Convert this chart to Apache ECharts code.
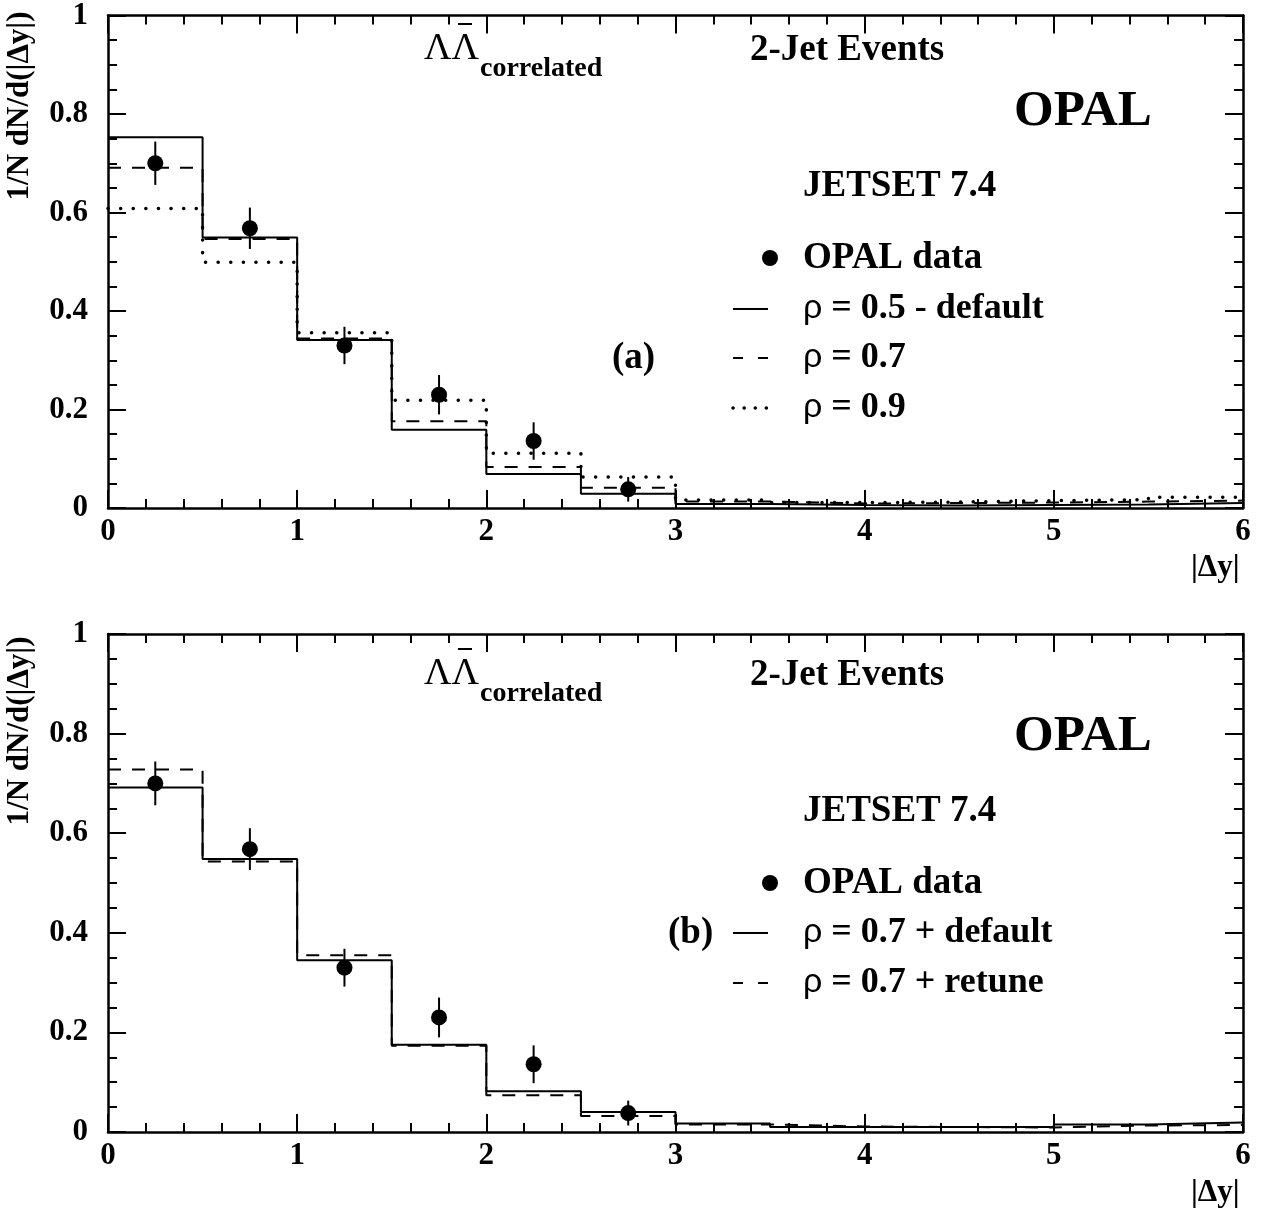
<!DOCTYPE html>
<html>
<head>
<meta charset="utf-8">
<script src="https://cdn.jsdelivr.net/npm/echarts@6/dist/echarts.min.js"></script>
<style>
  html, body { margin: 0; padding: 0; background: #fff; }
  #chart { width: 1264px; height: 1211px; }
</style>
</head>
<body>
<div id="chart"></div>
<script>
// bin edges of |dy| histograms (0.5 wide)
const binEdges = [0, 0.5, 1, 1.5, 2, 2.5, 3, 3.5, 4, 4.5, 5, 5.5, 6];
// OPAL data points
const dataX = [0.25, 0.75, 1.25, 1.75, 2.25, 2.75];
const dataY = [0.700, 0.568, 0.330, 0.230, 0.136, 0.038];
const dataErr = [0.044, 0.042, 0.038, 0.040, 0.038, 0.025];
// panel (a) JETSET 7.4
const rho05 = [0.753, 0.549, 0.341, 0.159, 0.069, 0.029, 0.008, 0.006, 0.005, 0.006, 0.007, 0.010];
const rho07 = [0.691, 0.546, 0.344, 0.176, 0.083, 0.041, 0.013, 0.009, 0.010, 0.011, 0.013, 0.015];
const rho09 = [0.608, 0.499, 0.356, 0.219, 0.111, 0.063, 0.016, 0.011, 0.012, 0.015, 0.017, 0.022];
// panel (b)
const rho07Default = [0.692, 0.548, 0.345, 0.175, 0.082, 0.040, 0.017, 0.010, 0.010, 0.010, 0.015, 0.019];
const rho07Retune = [0.728, 0.543, 0.355, 0.173, 0.074, 0.032, 0.015, 0.011, 0.010, 0.009, 0.013, 0.014];

const FONT = '"Liberation Serif", "Times New Roman", serif';
const DASH = [13, 11];
const DOT = [0.1, 12.5];

const hist = vals => binEdges.map((e, i) => [e, vals[Math.min(i, vals.length - 1)]]);
const points = dataX.map((x, i) => [x, dataY[i], dataErr[i]]);

function xAx(grid, pos) {
  return {
    type: 'value', gridIndex: grid, position: pos, min: 0, max: 6, interval: 1,
    axisLine: { onZero: false, lineStyle: { color: '#000', width: 2.5 } },
    axisTick: { inside: true, length: 18, lineStyle: { color: '#000', width: 2 } },
    minorTick: { show: true, splitNumber: 5, length: 9, lineStyle: { color: '#000', width: 2 } },
    axisLabel: {
      show: pos === 'bottom', color: '#000', fontFamily: FONT, fontWeight: 'bold',
      fontSize: 31, margin: 8
    },
    splitLine: { show: false }
  };
}
function yAx(grid, pos) {
  return {
    type: 'value', gridIndex: grid, position: pos, min: 0, max: 1, interval: 0.2,
    axisLine: { onZero: false, lineStyle: { color: '#000', width: 2.5 } },
    axisTick: { inside: true, length: 18, lineStyle: { color: '#000', width: 2 } },
    minorTick: { show: true, splitNumber: 4, length: 9, lineStyle: { color: '#000', width: 2 } },
    axisLabel: {
      show: pos === 'left', color: '#000', fontFamily: FONT, fontWeight: 'bold',
      fontSize: 31, margin: 20
    },
    splitLine: { show: false }
  };
}

function histSeries(name, vals, axis, type) {
  const dotted = type === DOT;
  return {
    name: name, type: 'line', step: 'end', data: hist(vals),
    xAxisIndex: axis, yAxisIndex: axis, symbol: 'none', silent: true,
    lineStyle: { color: '#000', width: dotted ? 3.5 : 2, type: type, cap: dotted ? 'round' : 'butt' },
    z: 3
  };
}
function pointSeries(axis) {
  return {
    name: 'OPAL data', type: 'custom', xAxisIndex: axis, yAxisIndex: axis, data: points, z: 5,
    renderItem: (params, api) => {
      const x = api.value(0), y = api.value(1), e = api.value(2);
      const p = api.coord([x, y]);
      const lo = api.coord([x, y - e]);
      const hi = api.coord([x, y + e]);
      return {
        type: 'group', children: [
          { type: 'line', shape: { x1: p[0], y1: lo[1], x2: p[0], y2: hi[1] }, style: { stroke: '#000', lineWidth: 2 } },
          { type: 'circle', shape: { cx: p[0], cy: p[1], r: 8 }, style: { fill: '#000' } }
        ]
      };
    }
  };
}

// text helpers for graphic
function txt(x, y, text, size, opts) {
  return Object.assign({
    type: 'text', x: x, y: y, z: 10,
    style: {
      text: text, fill: '#000', fontFamily: FONT, fontWeight: 'bold', fontSize: size,
      verticalAlign: 'middle', align: 'left'
    }
  }, opts || {});
}
function rhoTxt(x, y, rest) {
  return {
    type: 'text', x: x, y: y, z: 10,
    style: {
      text: '{r|ρ}{t|' + rest + '}', verticalAlign: 'middle', align: 'left',
      rich: {
        r: { fontFamily: '"Liberation Sans", sans-serif', fontSize: 34, fill: '#000' },
        t: { fontFamily: FONT, fontWeight: 'bold', fontSize: 36, fill: '#000' }
      }
    }
  };
}
function key(y, dash, dotted) {
  return {
    type: 'line', z: 10, shape: { x1: 733, y1: y, x2: 768, y2: y },
    style: { stroke: '#000', lineWidth: dotted ? 3.5 : 2, lineDash: dash || null, lineCap: dotted ? 'round' : 'butt' }
  };
}
function panelText(dy) {
  return [
    txt(20, 106 + dy, '1/N dN/d(|Δy|)', 31, { rotation: Math.PI / 2, style: {
      text: '1/N dN/d(|Δy|)', fill: '#000', fontFamily: FONT, fontWeight: 'bold', fontSize: 31,
      align: 'center', verticalAlign: 'middle' } }),
    txt(1191, 568 + dy, '|Δy|', 31),
    txt(424, 49 + dy, 'ΛΛ', 38, { style: { text: 'ΛΛ', fill: '#000', fontFamily: FONT, fontSize: 38, verticalAlign: 'middle' } }),
    { type: 'line', z: 10, shape: { x1: 458, y1: 24 + dy, x2: 472, y2: 24 + dy }, style: { stroke: '#000', lineWidth: 2 } },
    txt(480, 69 + dy, 'correlated', 28),
    txt(750, 50 + dy, '2-Jet Events', 37),
    txt(1014, 112 + dy, 'OPAL', 51),
    txt(803, 186 + dy, 'JETSET 7.4', 37),
    { type: 'circle', z: 10, shape: { cx: 770, cy: 258 + dy, r: 8 }, style: { fill: '#000' } },
    txt(803, 258 + dy, 'OPAL data', 37)
  ];
}

const chart = echarts.init(document.getElementById('chart'), null, { renderer: 'canvas' });
chart.setOption({
  animation: false,
  backgroundColor: '#fff',
  grid: [
    { left: 108, top: 8, width: 1135, height: 500 },
    { left: 108, top: 634, width: 1135, height: 498 }
  ],
  xAxis: [xAx(0, 'bottom'), xAx(1, 'bottom'), xAx(0, 'top'), xAx(1, 'top')],
  yAxis: [yAx(0, 'left'), yAx(1, 'left'), yAx(0, 'right'), yAx(1, 'right')],
  series: [
    histSeries('ρ = 0.5 - default', rho05, 0, 'solid'),
    histSeries('ρ = 0.7', rho07, 0, DASH),
    histSeries('ρ = 0.9', rho09, 0, DOT),
    pointSeries(0),
    histSeries('ρ = 0.7 + default', rho07Default, 1, 'solid'),
    histSeries('ρ = 0.7 + retune', rho07Retune, 1, DASH),
    pointSeries(1)
  ],
  graphic: [].concat(
    panelText(0),
    [
      key(309), rhoTxt(803, 309, ' = 0.5 - default'),
      txt(612, 358, '(a)', 37),
      key(358, [10, 15]), rhoTxt(803, 358, ' = 0.7'),
      key(408, [0.1, 11], true), rhoTxt(803, 408, ' = 0.9')
    ],
    panelText(625),
    [
      txt(668, 933, '(b)', 37),
      key(933), rhoTxt(803, 933, ' = 0.7 + default'),
      key(983, [10, 15]), rhoTxt(803, 983, ' = 0.7 + retune')
    ]
  )
});
</script>
</body>
</html>
